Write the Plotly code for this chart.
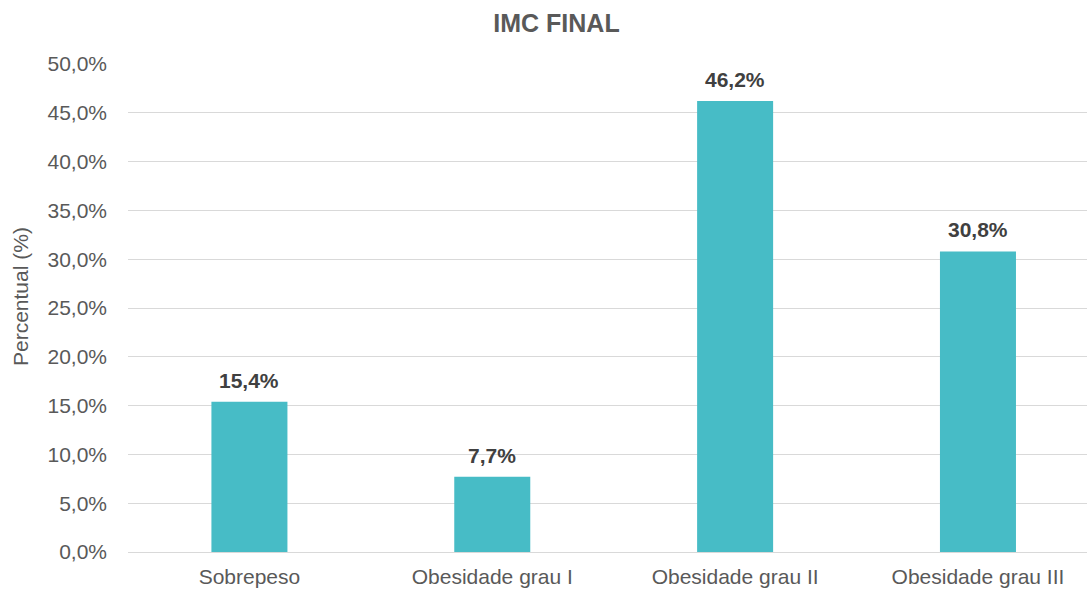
import plotly.graph_objects as go

categorias = ["Sobrepeso", "Obesidade grau I", "Obesidade grau II", "Obesidade grau III"]
percentuais = [15.4, 7.7, 46.2, 30.8]
rotulos = ["15,4%", "7,7%", "46,2%", "30,8%"]
y_ticks = [0, 5, 10, 15, 20, 25, 30, 35, 40, 45, 50]
y_tick_labels = [f"{v:.1f}".replace(".", ",") + "%" for v in y_ticks]

W, H = 1087, 589
FONT = "Liberation Sans, Arial, sans-serif"
M_L, M_T, M_B = 128, 64, 37
plot_w = W - M_L
plot_h = H - M_T - M_B

xs = list(range(len(categorias)))

fig = go.Figure(
    go.Bar(
        x=xs,
        y=percentuais,
        marker=dict(color="#47BCC6", line=dict(width=0)),
        width=0.313,
        hoverinfo="skip",
    )
)

# value labels sitting above each bar
for xi, val, txt in zip(xs, percentuais, rotulos):
    fig.add_annotation(
        x=xi,
        y=val,
        text=f"<b>{txt}</b>",
        showarrow=False,
        yanchor="bottom",
        yshift=8,
        font=dict(family=FONT, size=21, color="#404040"),
    )

# vertical axis title
fig.add_annotation(
    xref="paper",
    yref="paper",
    x=-(M_L - 20) / plot_w,
    y=(H - M_B - 297) / plot_h,
    xanchor="center",
    yanchor="middle",
    text="Percentual (%)",
    textangle=-90,
    showarrow=False,
    font=dict(family=FONT, size=21, color="#595959"),
)

fig.update_layout(
    width=W,
    height=H,
    margin=dict(l=M_L, r=0, t=M_T, b=M_B),
    paper_bgcolor="white",
    plot_bgcolor="white",
    showlegend=False,
    font=dict(family=FONT, size=21, color="#595959"),
    title=dict(
        text="<b>IMC FINAL</b>",
        font=dict(family=FONT, size=25, color="#595959"),
        x=556.5 / W,
        xanchor="center",
        xref="container",
        y=1 - 23 / H,
        yanchor="middle",
        yref="container",
    ),
    xaxis=dict(
        tickmode="array",
        tickvals=xs,
        ticktext=categorias,
        range=[-0.5, 3.449],
        showgrid=False,
        zeroline=False,
        showline=False,
        ticks="",
        ticklabelstandoff=10,
        tickfont=dict(family=FONT, size=21, color="#595959"),
    ),
    yaxis=dict(
        range=[0, 50],
        tickmode="array",
        tickvals=y_ticks,
        ticktext=y_tick_labels,
        showgrid=True,
        gridcolor="#D9D9D9",
        gridwidth=1,
        zeroline=True,
        zerolinecolor="#D9D9D9",
        zerolinewidth=1,
        showline=False,
        ticks="",
        ticklabelstandoff=20,
        tickfont=dict(family=FONT, size=21, color="#595959"),
    ),
)

fig.write_html("out.html")
